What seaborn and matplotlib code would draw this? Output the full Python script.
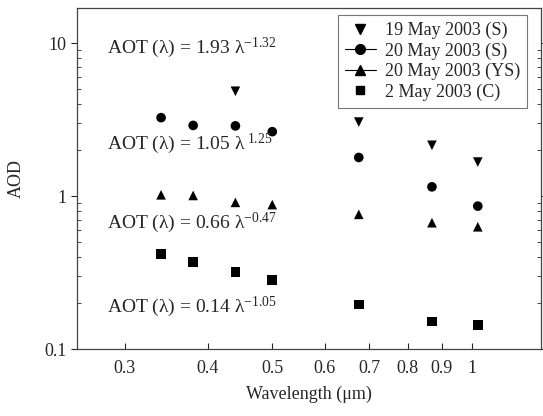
import matplotlib
matplotlib.use("Agg")
import matplotlib.pyplot as plt
import seaborn as sns
import pandas as pd
from matplotlib.lines import Line2D
from matplotlib.ticker import FixedLocator, FixedFormatter, NullFormatter, LogLocator

wl_19 = [0.44, 0.675, 0.87, 1.02]
aod_19 = [4.85, 3.05, 2.15, 1.67]
wl = [0.34, 0.38, 0.44, 0.50, 0.675, 0.87, 1.02]
aod_20s = [3.26, 2.9, 2.88, 2.64, 1.79, 1.15, 0.86]
aod_20ys = [1.02, 1.01, 0.91, 0.88, 0.76, 0.67, 0.63]
aod_2c = [0.42, 0.37, 0.32, 0.283, 0.196, 0.151, 0.143]
series = ["19 May 2003 (S)", "20 May 2003 (S)", "20 May 2003 (YS)", "2 May 2003 (C)"]
fits = [r"AOT (λ) = 1.93 λ$^{-1.32}$", r"AOT (λ) = 1.05 λ$^{\ 1.25}$",
        r"AOT (λ) = 0.66 λ$^{-0.47}$", r"AOT (λ) = 0.14 λ$^{-1.05}$"]
fit_y = [9.3, 2.2, 0.67, 0.19]
xticks = [0.3, 0.4, 0.5, 0.6, 0.7, 0.8, 0.9, 1.0]
xticklabels = ["0.3", "0.4", "0.5", "0.6", "0.7", "0.8", "0.9", "1"]
yticks = [0.1, 1, 10]
yticklabels = ["0.1", "1", "10"]

sns.set_style("ticks")
plt.rcParams["font.family"] = ["Liberation Serif", "DejaVu Serif"]
plt.rcParams["mathtext.fontset"] = "custom"
plt.rcParams["mathtext.rm"] = "Liberation Serif"
plt.rcParams["mathtext.it"] = "Liberation Serif:italic"

frames = [pd.DataFrame({"wl": wl_19, "aod": aod_19, "s": series[0]}),
          pd.DataFrame({"wl": wl, "aod": aod_20s, "s": series[1]}),
          pd.DataFrame({"wl": wl, "aod": aod_20ys, "s": series[2]}),
          pd.DataFrame({"wl": wl, "aod": aod_2c, "s": series[3]})]
df = pd.concat(frames, ignore_index=True)
markers = {series[0]: "v", series[1]: "o", series[2]: "^", series[3]: "s"}

fig = plt.figure(figsize=(5.43, 4.16), dpi=100)
ax = fig.add_axes([77/543, 1-349/416, (541-77)/543, (349-8)/416])
sns.scatterplot(data=df, x="wl", y="aod", style="s", markers=markers, color="black",
                s=48, edgecolor="black", linewidth=0, legend=False, ax=ax)
ax.set_xscale("log")
ax.set_yscale("log")
ax.set_xlim(0.254, 1.27)
ax.set_ylim(0.1, 17)

ax.xaxis.set_major_locator(FixedLocator(xticks))
ax.xaxis.set_major_formatter(FixedFormatter(xticklabels))
ax.xaxis.set_minor_locator(FixedLocator([]))
ax.xaxis.set_minor_formatter(NullFormatter())
ax.yaxis.set_major_locator(FixedLocator(yticks))
ax.yaxis.set_major_formatter(FixedFormatter(yticklabels))
ax.yaxis.set_minor_locator(LogLocator(base=10, subs=range(2, 10)))
ax.yaxis.set_minor_formatter(NullFormatter())

for sp in ax.spines.values():
    sp.set_visible(True)
    sp.set_color("#444444")
    sp.set_linewidth(0.9)
ax.tick_params(axis="x", which="major", direction="in", length=4, labelsize=13, top=False, pad=8)
ax.tick_params(axis="y", which="major", direction="out", length=4, labelsize=13, right=True)
ax.tick_params(axis="y", which="minor", direction="in", length=3, right=True)
ax.set_xlabel("Wavelength (μm)", fontsize=13, labelpad=6)
ax.set_ylabel("AOD", fontsize=13, labelpad=14)

for t, yv in zip(fits, fit_y):
    ax.text(0.282, yv, t, fontsize=14, va="center", ha="left")

handles = [
    Line2D([], [], marker="v", color="black", linestyle="none", markersize=7),
    Line2D([], [], marker="o", color="black", linestyle="-", linewidth=0.8, markersize=7),
    Line2D([], [], marker="^", color="black", linestyle="-", linewidth=0.8, markersize=7),
    Line2D([], [], marker="s", color="black", linestyle="none", markersize=6),
]
leg = ax.legend(handles, series, loc="upper right", bbox_to_anchor=(0.97, 0.98),
                fontsize=13, frameon=True, fancybox=False, handlelength=1.7,
                handletextpad=0.5, labelspacing=0.17, borderpad=0.4, borderaxespad=0)
leg.get_frame().set_edgecolor("#555555")
leg.get_frame().set_linewidth(0.8)

fig.savefig("out.png", dpi=100)
